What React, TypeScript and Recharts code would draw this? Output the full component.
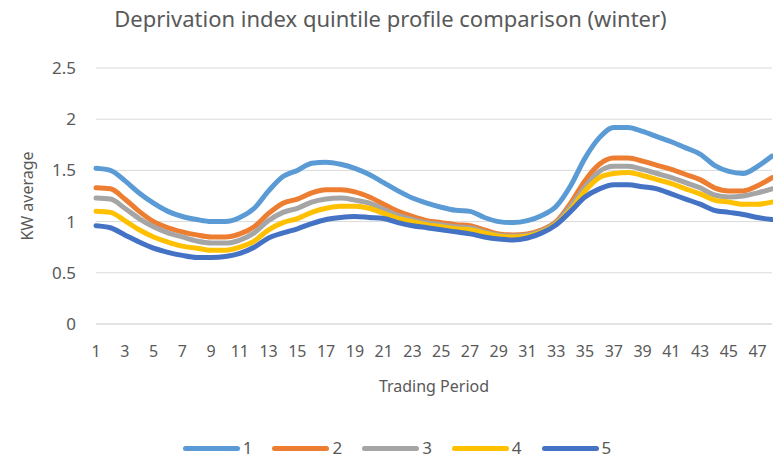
import { LineChart, Line, XAxis, YAxis, CartesianGrid, Legend } from "recharts";

// trading periods 1..48
const periods = [
	1, 2, 3, 4, 5, 6, 7, 8, 9, 10, 11, 12, 13, 14, 15, 16, 17, 18, 19, 20, 21, 22, 23, 24,
	25, 26, 27, 28, 29, 30, 31, 32, 33, 34, 35, 36, 37, 38, 39, 40, 41, 42, 43, 44, 45, 46, 47, 48,
];

const q1 = [
	1.52, 1.5, 1.4, 1.28, 1.18, 1.1, 1.05, 1.02, 1.0, 1.0, 1.04, 1.13, 1.3, 1.44, 1.5, 1.57, 1.58, 1.56,
	1.52, 1.46, 1.38, 1.3, 1.23, 1.18, 1.14, 1.11, 1.1, 1.04, 1.0, 0.99, 1.01, 1.06, 1.15, 1.35, 1.62,
	1.82, 1.92, 1.92, 1.88, 1.83, 1.78, 1.72, 1.66, 1.55, 1.49, 1.47, 1.54, 1.64,
];
const q2 = [
	1.33, 1.32, 1.22, 1.1, 1.0, 0.94, 0.9, 0.87, 0.85, 0.85, 0.88, 0.95, 1.08, 1.18, 1.22, 1.28, 1.31,
	1.31, 1.29, 1.24, 1.17, 1.1, 1.05, 1.01, 0.99, 0.97, 0.96, 0.92, 0.88, 0.87, 0.88, 0.92, 1.0, 1.18,
	1.4, 1.56, 1.62, 1.62, 1.59, 1.55, 1.51, 1.46, 1.41, 1.33, 1.3, 1.3, 1.35, 1.43,
];
const q3 = [
	1.23, 1.22, 1.13, 1.03, 0.95, 0.89, 0.85, 0.81, 0.79, 0.79, 0.82, 0.89, 1.01, 1.09, 1.13, 1.19, 1.22,
	1.23, 1.21, 1.18, 1.12, 1.06, 1.02, 0.99, 0.97, 0.95, 0.94, 0.9, 0.87, 0.86, 0.87, 0.91, 0.99, 1.15,
	1.34, 1.49, 1.54, 1.54, 1.51, 1.47, 1.43, 1.38, 1.33, 1.26, 1.24, 1.25, 1.28, 1.32,
];
const q4 = [
	1.1, 1.09, 1.01, 0.92, 0.85, 0.8, 0.76, 0.74, 0.72, 0.72, 0.75, 0.81, 0.92, 0.99, 1.03, 1.09, 1.13,
	1.15, 1.15, 1.13, 1.08, 1.03, 1.0, 0.97, 0.95, 0.93, 0.92, 0.89, 0.86, 0.85, 0.86, 0.9, 0.98, 1.12,
	1.3, 1.43, 1.47, 1.48, 1.45, 1.41, 1.37, 1.32, 1.27, 1.21, 1.19, 1.17, 1.17, 1.19,
];
const q5 = [
	0.96, 0.94, 0.87, 0.8, 0.74, 0.7, 0.67, 0.65, 0.65, 0.66, 0.69, 0.75, 0.84, 0.89, 0.93, 0.98, 1.02,
	1.04, 1.05, 1.04, 1.03, 0.99, 0.96, 0.94, 0.92, 0.9, 0.88, 0.85, 0.83, 0.82, 0.84, 0.89, 0.97, 1.1,
	1.24, 1.32, 1.36, 1.36, 1.34, 1.32, 1.27, 1.22, 1.17, 1.11, 1.09, 1.07, 1.04, 1.02,
];

const yTicks = [0, 0.5, 1, 1.5, 2, 2.5];

const series = [
	{ key: "1", values: q1, color: "#5B9BD5" },
	{ key: "2", values: q2, color: "#ED7D31" },
	{ key: "3", values: q3, color: "#A5A5A5" },
	{ key: "4", values: q4, color: "#FFC000" },
	{ key: "5", values: q5, color: "#4472C4" },
];

const font = "'Noto Sans', sans-serif";
const textColor = "#595959";

const LegendContent = () => (
	<div
		style={{
			display: "flex",
			justifyContent: "center",
			paddingLeft: 42,
			fontFamily: font,
			color: textColor,
			fontSize: 17,
			lineHeight: "22px",
		}}
	>
		{series.map((s) => (
			<div key={s.key} style={{ display: "flex", alignItems: "center", marginRight: 20 }}>
				<span
					style={{
						display: "inline-block",
						width: 57,
						height: 5,
						borderRadius: 3,
						background: s.color,
						marginRight: 3,
					}}
				/>
				<span>{s.key}</span>
			</div>
		))}
	</div>
);

const YLabel = ({ viewBox }: any) => {
	const cy = viewBox.y + viewBox.height / 2;
	return (
		<text
			x={27}
			y={cy}
			transform={`rotate(-90, 27, ${cy})`}
			textAnchor="middle"
			dominantBaseline="central"
			fill={textColor}
			fontSize={16}
			fontFamily={font}
		>
			KW average
		</text>
	);
};

export default function App() {
	const data = periods.map((p, i) => {
		const row: Record<string, number> = { period: p };
		series.forEach((s) => {
			row[s.key] = s.values[i];
		});
		return row;
	});

	return (
		<div style={{ position: "absolute", left: 0, top: 0, width: 773, height: 459, background: "#fff" }}>
			<div
				style={{
					position: "absolute",
					top: 3,
					left: 4,
					width: 773,
					textAlign: "center",
					fontFamily: font,
					fontSize: 22,
					color: textColor,
				}}
			>
				Deprivation index quintile profile comparison (winter)
			</div>
			<LineChart
				width={773}
				height={459}
				data={data}
				margin={{ top: 68, right: 1, left: 0, bottom: 43 }}
			>
				<CartesianGrid vertical={false} stroke="#D9D9D9" strokeWidth={1} />
				<XAxis
					dataKey="period"
					interval={1}
					tickLine={false}
					axisLine={{ stroke: "#D9D9D9" }}
					tickSize={0}
					tickMargin={22}
					height={70}
					tick={{ fill: textColor, fontSize: 16, fontFamily: font }}
					label={{
						value: "Trading Period",
						position: "insideBottom",
						offset: 2,
						fill: textColor,
						fontSize: 16,
						fontFamily: font,
					}}
				/>
				<YAxis
					domain={[0, 2.5]}
					ticks={yTicks}
					width={96}
					tickLine={false}
					axisLine={false}
					tickSize={8}
					tickMargin={12}
					tick={{ fill: textColor, fontSize: 17, fontFamily: font }}
					label={<YLabel />}
				/>
				<Legend verticalAlign="bottom" content={<LegendContent />} wrapperStyle={{ bottom: 0 }} />
				{series.map((s) => (
					<Line
						key={s.key}
						dataKey={s.key}
						type="monotone"
						stroke={s.color}
						strokeWidth={5}
						dot={false}
						strokeLinecap="round"
						isAnimationActive={false}
					/>
				))}
			</LineChart>
		</div>
	);
}
